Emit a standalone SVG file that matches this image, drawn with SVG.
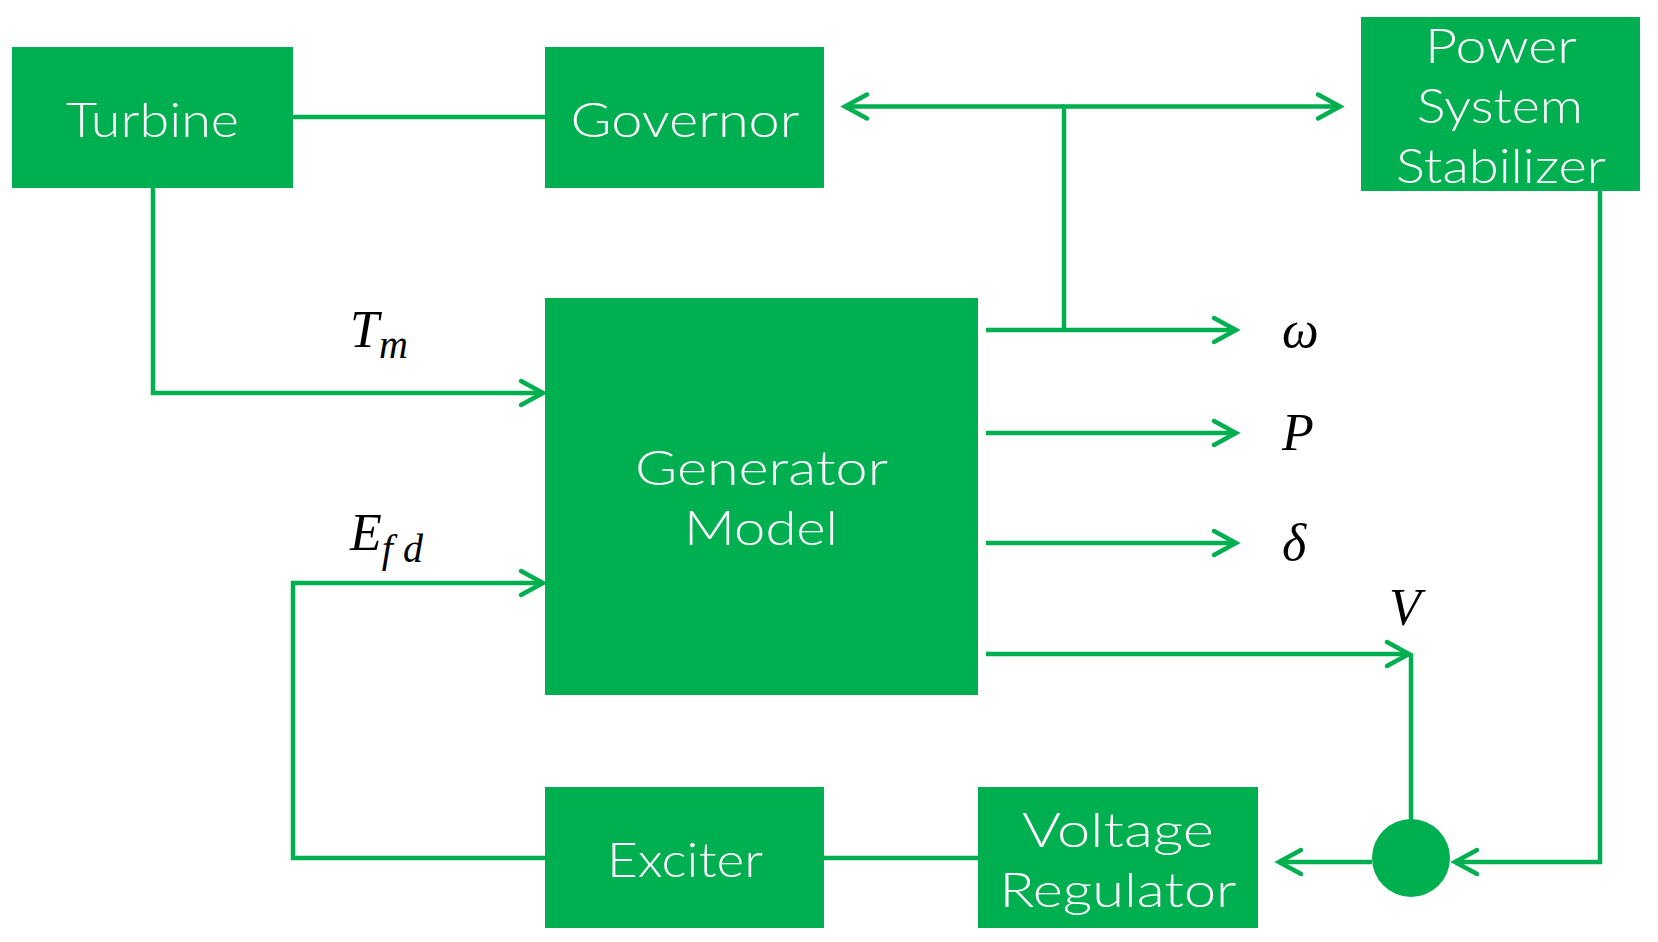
<svg xmlns="http://www.w3.org/2000/svg" width="1658" height="942" viewBox="0 0 1658 942">
<style>
.box{fill:#00B050}
.lbl{font-family:Lato,"Open Sans",sans-serif;font-weight:300;font-size:48px;fill:#ffffff;text-anchor:middle}
.math{font-family:"Liberation Serif","DejaVu Serif",serif;font-style:italic;font-size:52px;fill:#000000}
.ln{fill:none;stroke:#00B050;stroke-width:4.5;stroke-linejoin:miter}
.arr{marker-end:url(#ah)}
</style>
<defs>
<marker id="ah" markerUnits="userSpaceOnUse" markerWidth="34" markerHeight="34" viewBox="-28 -17 34 34" refX="0" refY="0" orient="auto">
<path d="M-22,-12 L0,0 L-22,12" fill="none" stroke="#00B050" stroke-width="4.5" stroke-linecap="round" stroke-linejoin="miter"/>
</marker>
</defs>
<rect width="1658" height="942" fill="#ffffff"/>
<g id="connectors">
<path class="ln" d="M293,117 H545"/>
<path class="ln arr" d="M153,188 V393 H543"/>
<path class="ln arr" d="M545,858 H293 V583 H543"/>
<path class="ln" d="M824,858 H978"/>
<path class="ln arr" d="M1064,106.5 H845"/>
<path class="ln arr" d="M1064,330 V106.5 H1340"/>
<path class="ln arr" d="M986,330 H1236"/>
<path class="ln arr" d="M986,433 H1236"/>
<path class="ln arr" d="M986,543 H1236"/>
<path class="ln arr" d="M986,654 H1409"/>
<path class="ln" d="M1411,654 V822"/>
<path class="ln arr" d="M1600,191 V862 H1455"/>
<path class="ln arr" d="M1372,862 H1279"/>
</g>
<g id="turbine"><rect class="box" x="12" y="47" width="281" height="141"/><text class="lbl" x="152.5" y="137" textLength="173" lengthAdjust="spacingAndGlyphs">Turbine</text></g>
<g id="governor"><rect class="box" x="545" y="47" width="279" height="141"/><text class="lbl" x="685" y="137" textLength="229" lengthAdjust="spacingAndGlyphs">Governor</text></g>
<g id="pss"><rect class="box" x="1361" y="17" width="279" height="174"/><text class="lbl" x="1501" y="63" textLength="152" lengthAdjust="spacingAndGlyphs">Power</text><text class="lbl" x="1500" y="123" textLength="166" lengthAdjust="spacingAndGlyphs">System</text><text class="lbl" x="1501" y="183" textLength="210" lengthAdjust="spacingAndGlyphs">Stabilizer</text></g>
<g id="generator"><rect class="box" x="545" y="298" width="433" height="397"/><text class="lbl" x="761.5" y="485" textLength="253" lengthAdjust="spacingAndGlyphs">Generator</text><text class="lbl" x="761" y="545" textLength="154" lengthAdjust="spacingAndGlyphs">Model</text></g>
<g id="exciter"><rect class="box" x="545" y="787" width="279" height="141"/><text class="lbl" x="685" y="877" textLength="156" lengthAdjust="spacingAndGlyphs">Exciter</text></g>
<g id="voltage-regulator"><rect class="box" x="978" y="787" width="280" height="141"/><text class="lbl" x="1118" y="847" textLength="192" lengthAdjust="spacingAndGlyphs">Voltage</text><text class="lbl" x="1118" y="907" textLength="237" lengthAdjust="spacingAndGlyphs">Regulator</text></g>
<g id="summing-junction"><ellipse class="box" cx="1411" cy="858" rx="39" ry="39"/></g>
<g id="labels">
<text class="math" x="350" y="347">T<tspan font-size="40" dy="11">m</tspan></text>
<text class="math" x="350" y="550">E<tspan font-size="40" dy="12">f d</tspan></text>
<text class="math" x="1282" y="347" font-size="56">ω</text>
<text class="math" x="1282" y="450">P</text>
<text class="math" x="1282" y="560">δ</text>
<text class="math" x="1389" y="625">V</text>
</g>
</svg>
